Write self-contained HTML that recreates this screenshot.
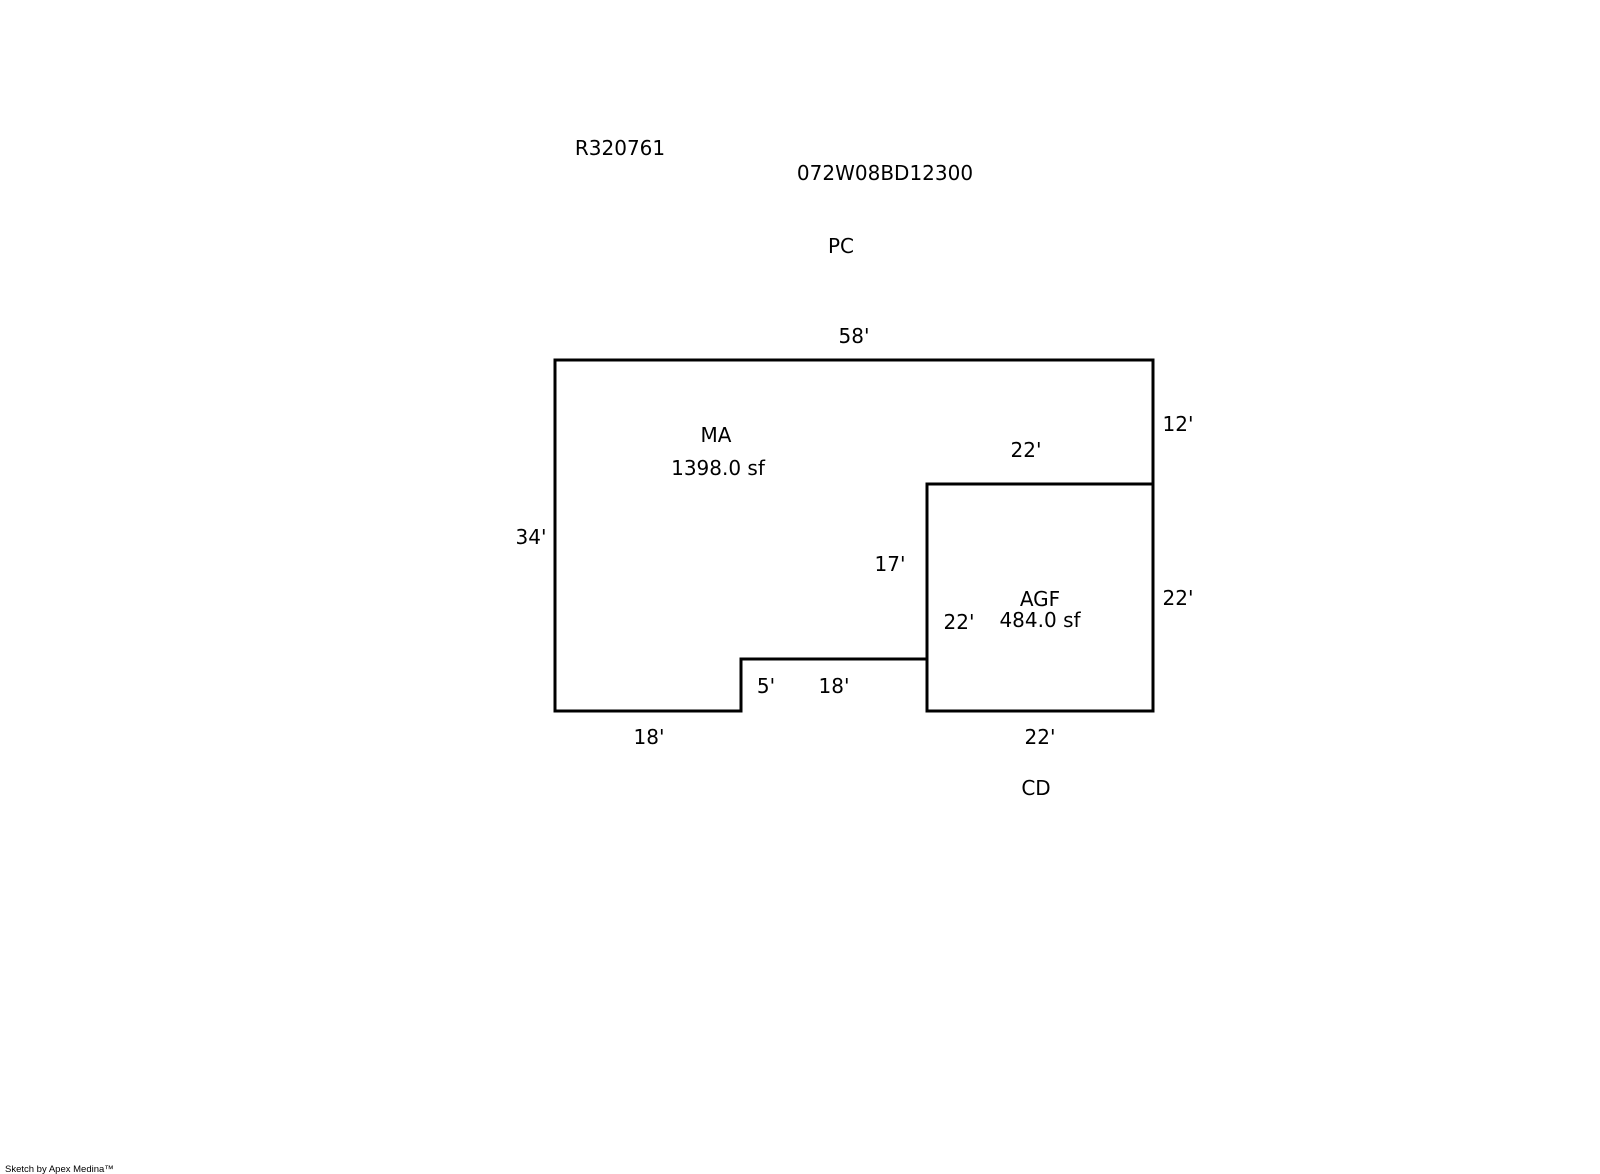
<!DOCTYPE html>
<html><head><meta charset="utf-8"><style>
html,body{margin:0;padding:0;background:#fff;}
svg{display:block;}
text{font-family:"DejaVu Sans","Liberation Sans",sans-serif;font-size:20px;fill:#000;}
</style></head><body>
<svg width="1600" height="1174" viewBox="0 0 1600 1174" xmlns="http://www.w3.org/2000/svg">
<g fill="none" stroke="#000" stroke-width="3" stroke-linecap="square">
<path d="M555 360 H1153 V711 H927 V659 H741 V711 H555 Z"/>
<path d="M927 659 V484 H1153"/>
</g>
<g text-anchor="middle" dominant-baseline="central">
<text x="620" y="148">R320761</text>
<text x="885" y="173">072W08BD12300</text>
<text x="841" y="246">PC</text>
<text x="854" y="336">58'</text>
<text x="716" y="435">MA</text>
<text x="718" y="468">1398.0 sf</text>
<text x="1178" y="424">12'</text>
<text x="1026" y="450">22'</text>
<text x="531" y="537">34'</text>
<text x="890" y="564">17'</text>
<text x="1040" y="599">AGF</text>
<text x="1040" y="620">484.0 sf</text>
<text x="959" y="622">22'</text>
<text x="1178" y="598">22'</text>
<text x="766" y="686">5'</text>
<text x="834" y="686">18'</text>
<text x="649" y="737">18'</text>
<text x="1040" y="737">22'</text>
<text x="1036" y="788">CD</text>
</g>
<text x="5" y="1172" style="font-size:9.5px;font-family:'Liberation Sans',sans-serif">Sketch by Apex Medina™</text>
</svg>
</body></html>
